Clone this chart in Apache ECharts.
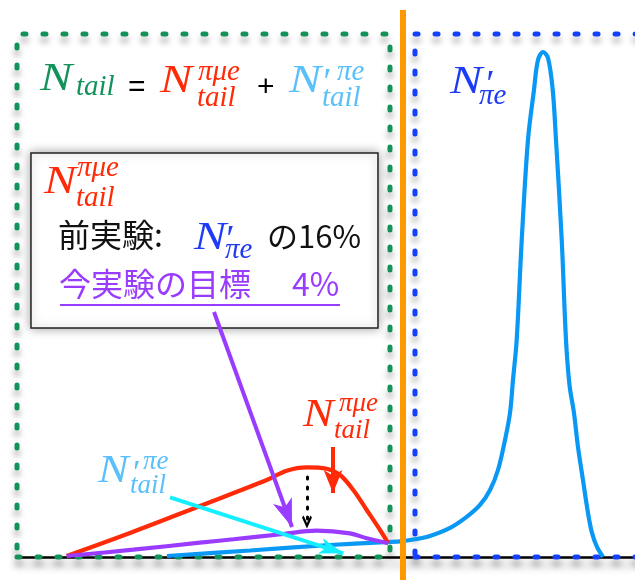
<!DOCTYPE html>
<html>
<head>
<meta charset="utf-8">
<script src="https://cdn.jsdelivr.net/npm/echarts@6/dist/echarts.min.js"></script>
<style>
  html, body { margin: 0; padding: 0; background: #fff; }
  #chart { width: 635px; height: 580px; }
</style>
</head>
<body>
<div id="chart"></div>
<script>
// Positron energy spectrum sketch (arbitrary units):
// the π→eν peak, its low-energy tail, and the π→μ→e tail below the cut.

// π→eν line shape N'πe
const peakX = [23.51, 36.52, 49.06, 56.90, 60.03, 62.38, 64.73, 67.87, 70.53, 72.57,
               74.14, 75.39, 76.49, 77.27, 77.74, 78.32, 79.11, 80.09, 81.03, 81.66,
               82.45, 83.23, 83.97, 84.48, 85.38, 86.05, 86.60, 87.30, 87.93, 88.71,
               89.50, 90.13, 90.91, 91.85];
const peakY = [0.18, 1.17, 2.15, 2.64, 2.82, 3.18, 3.77, 5.21, 7.24, 9.34,
               12.03, 15.62, 21.01, 25.85, 31.78, 38.96, 56.91, 74.87, 83.84, 89.23,
               90.66, 89.59, 83.84, 74.87, 56.91, 38.96, 30.88, 25.85, 19.75, 13.82,
               7.90, 4.31, 1.80, 0];

// π→μ→e tail, previous experiment (16% level)
const muTailX = [7.79, 18.23, 28.68, 39.14, 42.27, 45.41, 48.54, 50.63, 52.71, 54.81, 56.90, 58.20];
const muTailY = [0.18, 4.54, 9.16, 13.82, 15.49, 16.10, 15.85, 14.72, 12.03, 8.44, 4.85, 2.46];

// π→μ→e tail, goal of this experiment (4% level)
const goalTailX = [7.79, 18.23, 28.68, 33.90, 41.74, 46.97, 52.19, 54.81, 58.20];
const goalTailY = [0.18, 1.31, 2.57, 3.18, 4.13, 4.72, 4.25, 3.36, 2.46];

// Energy cut separating the tail region from the peak region
const energyCut = 60.5;

const zip = (xs, ys) => xs.map((x, i) => [x, ys[i]]);

const C = {
  green: '#13925a',
  frameBlue: '#1540ff',
  peak: '#0a98f5',
  red: '#ff2a08',
  purple: '#9a3cff',
  cyan: '#14eeff',
  lightBlue: '#5ac0fa',
  labelBlue: '#1e3cf5',
  orange: '#ff9900'
};

const MATH = '"Liberation Serif", "DejaVu Serif", serif';
const SANS = '"Liberation Sans", Arial, sans-serif';
const CJK = '"Noto Sans CJK JP", "Noto Sans", sans-serif';

function txt(text, x, y, size, color, family, italic, sx) {
  return {
    type: 'text', x: x, y: y, z: 100, silent: true,
    scaleX: sx || 1,
    style: {
      text: text, fill: color,
      font: (italic ? 'italic ' : '') + size + 'px ' + family,
      align: 'left', verticalAlign: 'middle'
    }
  };
}
const M = 41, S = 29, W = 1.18;

const graphics = [
  // N_tail = N^{πμe}_tail + N'^{πe}_tail
  txt('N', 40, 79, M, C.green, MATH, true, W),
  txt('tail', 76, 87, S, C.green, MATH, true),
  txt('=', 128, 88, 30, '#000', SANS, false),
  txt('N', 160, 81, M, C.red, MATH, true, W),
  txt('πμe', 198, 72, S, C.red, MATH, true),
  txt('tail', 197, 98, S, C.red, MATH, true),
  txt('+', 257, 88, 30, '#000', SANS, false),
  txt('N', 289, 81, M, C.lightBlue, MATH, true, W),
  txt('′', 321, 84, 38, C.lightBlue, MATH, true),
  txt('πe', 337, 72, S, C.lightBlue, MATH, true),
  txt('tail', 322, 98, S, C.lightBlue, MATH, true),

  // peak label
  txt('N', 450, 82, M, C.labelBlue, MATH, true, W),
  txt('′', 484, 86, 38, C.labelBlue, MATH, true),
  txt('πe', 479, 96, S, C.labelBlue, MATH, true),

  // text box contents
  txt('N', 44, 182, M, C.red, MATH, true, W),
  txt('πμe', 77, 168, S, C.red, MATH, true),
  txt('tail', 76, 198, S, C.red, MATH, true),
  txt('前実験:', 58, 235, 32, '#111', CJK, false),
  txt('N', 194, 238, M, C.labelBlue, MATH, true, W),
  txt('′', 224, 241, 38, C.labelBlue, MATH, true),
  txt('πe', 225, 250, S, C.labelBlue, MATH, true),
  txt('の16%', 267, 236, 31, '#111', CJK, false),
  txt('今実験の目標', 59, 284, 32, C.purple, CJK, false),
  txt('4%', 292, 284, 32, C.purple, CJK, false),
  { type: 'line', z: 100, silent: true,
    shape: { x1: 60, y1: 305, x2: 340, y2: 305 },
    style: { stroke: C.purple, lineWidth: 2 } },

  // curve labels
  txt('N', 98, 472, 39, C.lightBlue, MATH, true, W),
  txt('′', 131, 474, 34, C.lightBlue, MATH, true),
  txt('πe', 143, 462, 27, C.lightBlue, MATH, true),
  txt('tail', 130, 486, 27, C.lightBlue, MATH, true),
  txt('N', 303, 416, 39, C.red, MATH, true, W),
  txt('πμe', 339, 404, 27, C.red, MATH, true),
  txt('tail', 334, 431, 27, C.red, MATH, true)
];

const dotted = (color) => ({
  color: 'rgba(0,0,0,0)',
  borderColor: color,
  borderWidth: 5,
  borderType: [3, 17],
  borderCap: 'round',
  shadowColor: 'rgba(0,0,0,0.35)',
  shadowBlur: 6,
  shadowOffsetY: 6
});

const arrow = (from, to, color, width, size) => [
  { coord: from, symbol: 'none',
    lineStyle: { color: color, width: width, type: 'solid', cap: 'butt' } },
  { coord: to, symbol: 'arrow', symbolSize: size, itemStyle: { color: color } }
];

const chart = echarts.init(document.getElementById('chart'), null, { renderer: 'canvas' });

chart.setOption({
  animation: false,
  backgroundColor: '#fff',
  // the plot area runs a little past the right edge of the page
  grid: { left: 17, width: 638, top: 0, bottom: 0, outerBoundsMode: 'none', containLabel: false },
  xAxis: {
    type: 'value', min: 0, max: 100,
    axisLine: { show: true, onZero: true,
      lineStyle: { color: '#000', width: 2.5,
        shadowColor: 'rgba(0,0,0,0.35)', shadowBlur: 8, shadowOffsetY: 7 } },
    axisTick: { show: false }, axisLabel: { show: false }, splitLine: { show: false }
  },
  yAxis: {
    type: 'value', min: -4.13, max: 100, show: false,
    splitLine: { show: false }
  },
  graphic: graphics,
  series: [
    {
      name: 'frames', type: 'line', data: [], z: 1, clip: false, silent: true,
      markArea: {
        silent: true,
        label: { show: false },
        data: [
          [{ coord: [0, 0], itemStyle: dotted(C.green) }, { coord: [58.46, 93.9] }],
          [{ coord: [62.38, 0], itemStyle: dotted(C.frameBlue) }, { coord: [100, 93.9] }],
          [{ coord: [2.19, 72.53], itemStyle: {
              color: '#fff', borderColor: '#222', borderWidth: 1.5,
              shadowColor: 'rgba(0,0,0,0.35)', shadowBlur: 10 } },
           { coord: [56.58, 41.11] }]
        ]
      }
    },
    {
      name: "N'πe", type: 'line', data: zip(peakX, peakY), z: 3,
      showSymbol: false, smooth: 0.35, silent: true,
      lineStyle: { color: C.peak, width: 4.2 }
    },
    {
      name: 'Nπμe tail (prev.)', type: 'line', data: zip(muTailX, muTailY), z: 3,
      showSymbol: false, smooth: 0.35, silent: true,
      lineStyle: { color: C.red, width: 4.2 }
    },
    {
      name: 'Nπμe tail (goal)', type: 'line', data: zip(goalTailX, goalTailY), z: 3,
      showSymbol: false, smooth: 0.35, silent: true,
      lineStyle: { color: C.purple, width: 4.2 }
    },
    {
      name: 'annotations', type: 'line', data: [], z: 5, clip: false, silent: true,
      markLine: {
        silent: true,
        symbol: ['none', 'arrow'],
        label: { show: false },
        emphasis: { disabled: true },
        data: [
          arrow([23.98, 10.72], [51.14, 0.66], C.cyan, 4, [12, 24]),
          arrow([30.88, 43.99], [43.10, 5.39], C.purple, 4, [15, 28]),
          arrow([49.53, 19.75], [49.53, 11.49], C.red, 4, [14, 23]),
          [
            { coord: [45.45, 14.36], symbol: 'none',
              lineStyle: { color: '#000', width: 3, type: [2, 8], cap: 'round' } },
            { coord: [45.45, 6.28], symbol: 'path://M5 0 L10 8.5 L8.4 10 L5 4.2 L1.6 10 L0 8.5 Z',
              symbolSize: [10, 13], itemStyle: { color: '#000' } }
          ],
          [
            { coord: [energyCut, -4.13], symbol: 'none',
              lineStyle: { color: C.orange, width: 6, type: 'solid' } },
            { coord: [energyCut, 98.2], symbol: 'none' }
          ]
        ]
      }
    }
  ]
});
</script>
</body>
</html>
